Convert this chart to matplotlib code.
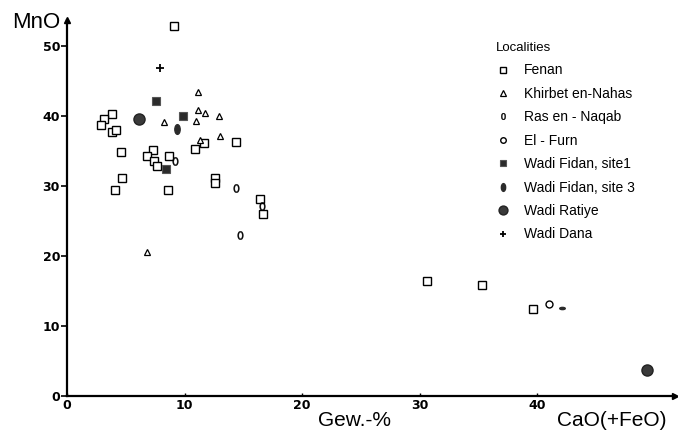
import numpy as np
import matplotlib
matplotlib.use("Agg")
import matplotlib.pyplot as plt
from matplotlib.path import Path
from matplotlib.transforms import Affine2D

# CaO(+FeO) vs MnO, Gew.-%
fenan_x = [9.1, 3.8, 3.15, 2.9, 3.8, 4.2, 4.6, 4.7, 4.05, 7.3, 6.8, 7.4, 7.65, 8.65, 8.55,
           10.9, 11.65, 14.4, 12.55, 12.55, 16.45, 16.65, 30.6, 35.3, 39.6]
fenan_y = [52.9, 40.3, 39.6, 38.7, 37.7, 38.0, 34.9, 31.2, 29.4, 35.2, 34.3, 33.6, 32.8, 34.3, 29.4,
           35.3, 36.2, 36.3, 31.1, 30.4, 28.1, 26.0, 16.4, 15.8, 12.4]
khirbet_x = [11.15, 11.1, 11.7, 12.95, 11.0, 8.25, 13.0, 11.3, 6.8]
khirbet_y = [43.4, 40.8, 40.4, 39.95, 39.3, 39.2, 37.2, 36.5, 20.6]
naqab_x = [9.2, 14.4, 14.7, 16.6]
naqab_y = [33.5, 29.7, 23.0, 27.1]
furn_x = [41.0]
furn_y = [13.2]
fidan1_x = [7.55, 9.85, 8.4]
fidan1_y = [42.2, 40.0, 32.4]
fidan3_x = [9.35, 42.1]
fidan3_y = [38.2, 12.6]
ratiye_x = [6.15, 49.3]
ratiye_y = [39.5, 3.7]
dana_x = [7.95]
dana_y = [46.8]

labels = ["Fenan", "Khirbet en-Nahas", "Ras en - Naqab", "El - Furn",
          "Wadi Fidan, site1", "Wadi Fidan, site 3", "Wadi Ratiye", "Wadi Dana"]

oval = Path.unit_circle().transformed(Affine2D().scale(0.55, 1.0))
dash = Path.unit_circle().transformed(Affine2D().scale(1.0, 0.4))

tick_font = ["Liberation Sans Narrow", "DejaVu Sans"]
text_font = ["Liberation Sans", "DejaVu Sans"]

fig = plt.figure(figsize=(6.78, 4.37), dpi=100)
ax = fig.add_axes([67 / 678, 41 / 437, 608 / 678, 376 / 437])

dark = "#2b2b2b"
ax.plot(fenan_x, fenan_y, "s", ms=5.5, mfc="white", mec="black", mew=1.0, ls="none", label=labels[0])
ax.plot(khirbet_x, khirbet_y, "^", ms=5, mfc="white", mec="black", mew=0.9, ls="none", label=labels[1])
ax.plot(naqab_x, naqab_y, marker="$0$", ms=6, color="black", mew=0.3, ls="none", label=labels[2])
ax.plot(furn_x, furn_y, "o", ms=5, mfc="white", mec="black", mew=1.0, ls="none", label=labels[3])
ax.plot(fidan1_x, fidan1_y, "s", ms=6, mfc=dark, mec="#555555", mew=0.8, ls="none", label=labels[4])
ax.plot(fidan3_x[:1], fidan3_y[:1], marker=oval, ms=7, mfc=dark, mec=dark, ls="none", label=labels[5])
ax.plot(fidan3_x[1:], fidan3_y[1:], marker=dash, ms=4, mfc=dark, mec=dark, ls="none")
ax.plot(ratiye_x, ratiye_y, "o", ms=8, mfc="#3a3a3a", mec="#222222", ls="none", label=labels[6])
ax.plot(dana_x, dana_y, "+", ms=6, mew=1.3, color="black", ls="none", label=labels[7])

ax.set_xlim(0, 51.7)
ax.set_ylim(0, 53.7)
ax.spines["top"].set_visible(False)
ax.spines["right"].set_visible(False)
ax.spines["left"].set_linewidth(1.6)
ax.spines["bottom"].set_linewidth(1.6)
ax.plot(1, 0, ">k", ms=5, transform=ax.get_yaxis_transform(), clip_on=False)
ax.plot(0, 1, "^k", ms=5, transform=ax.get_xaxis_transform(), clip_on=False)

ax.set_xticks([0, 10, 20, 30, 40])
ax.set_yticks([0, 10, 20, 30, 40, 50])
ax.tick_params(axis="y", direction="out", length=4, width=1.2, pad=1)
ax.tick_params(axis="x", direction="in", length=2, width=1.0, pad=2)
for t in ax.get_xticklabels() + ax.get_yticklabels():
    t.set_family(tick_font)
    t.set_weight("bold")
    t.set_fontsize(9)

fig.text(12 / 678, 1 - 22 / 437, "MnO", family=text_font, fontsize=16, va="center", ha="left")
fig.text(318 / 678, 1 - 420 / 437, "Gew.-%", family=text_font, fontsize=15, va="center", ha="left")
fig.text(557 / 678, 1 - 420 / 437, "CaO(+FeO)", family=text_font, fontsize=15, va="center", ha="left")

leg = ax.legend(loc="upper left", bbox_to_anchor=(489 / 678, 1 - 35 / 437),
                bbox_transform=fig.transFigure, frameon=False, title="Localities",
                prop={"family": text_font, "size": 10}, title_fontproperties={"family": text_font, "size": 9.5},
                labelspacing=0.68, handlelength=1.0, handletextpad=1.0, borderpad=0, markerscale=0.8)
leg._legend_box.align = "left"

fig.savefig("out.png", dpi=100)
